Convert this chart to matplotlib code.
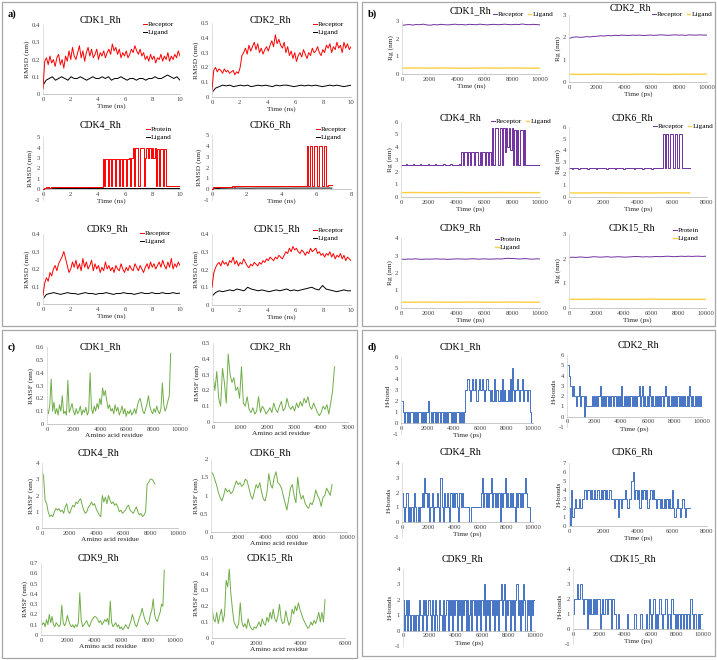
import numpy as np
import matplotlib
matplotlib.use("Agg")
import matplotlib.pyplot as plt
from matplotlib.patches import Rectangle
from matplotlib.ticker import FuncFormatter

plt.rcParams['font.family'] = ['Liberation Serif', 'DejaVu Serif']

# ---------------- a) RMSD (nm) vs time (ns) ----------------
a1_rec = [0.03, 0.19, 0.21, 0.17, 0.22, 0.18, 0.2, 0.16, 0.21, 0.23, 0.17, 0.2, 0.15, 0.22, 0.19, 0.25,
          0.2, 0.27, 0.22, 0.2, 0.24, 0.28, 0.21, 0.25, 0.19, 0.24, 0.27, 0.22, 0.26, 0.21, 0.23, 0.26,
          0.2, 0.24, 0.22, 0.25, 0.21, 0.24, 0.26, 0.23, 0.29, 0.25, 0.27, 0.23, 0.26, 0.21, 0.24, 0.22,
          0.25, 0.21, 0.23, 0.26, 0.24, 0.28, 0.25, 0.23, 0.26, 0.22, 0.24, 0.2, 0.22, 0.19, 0.23, 0.2,
          0.22, 0.18, 0.21, 0.2, 0.23, 0.19, 0.22, 0.2, 0.24, 0.19, 0.22, 0.2, 0.23, 0.21, 0.25, 0.22]
a1_lig = [0.05, 0.08, 0.09, 0.1, 0.08, 0.09, 0.1, 0.09, 0.08, 0.1, 0.09, 0.09, 0.1, 0.09, 0.08, 0.09,
          0.1, 0.09, 0.09, 0.1, 0.09, 0.1, 0.08, 0.09, 0.09, 0.1, 0.09, 0.08, 0.09, 0.09, 0.08, 0.09,
          0.09, 0.08, 0.09, 0.09, 0.1, 0.09, 0.09, 0.1, 0.11, 0.1, 0.09, 0.1, 0.08]

a2_rec = [0.05, 0.18, 0.2, 0.17, 0.19, 0.18, 0.16, 0.19, 0.17, 0.18, 0.16, 0.17, 0.18, 0.15, 0.17, 0.16,
          0.2, 0.28, 0.3, 0.33, 0.29, 0.35, 0.31, 0.34, 0.37, 0.32, 0.36, 0.3, 0.33, 0.29, 0.32, 0.34,
          0.31, 0.35, 0.38, 0.34, 0.42, 0.36, 0.39, 0.35, 0.33, 0.37, 0.3, 0.34, 0.28, 0.31, 0.26, 0.3,
          0.24, 0.28, 0.3, 0.27, 0.32, 0.29, 0.26, 0.3, 0.28, 0.33, 0.3, 0.31, 0.34, 0.3, 0.28, 0.32,
          0.3, 0.35, 0.33, 0.36, 0.3, 0.34, 0.32, 0.37, 0.33, 0.35, 0.3, 0.37, 0.33, 0.36, 0.32, 0.34]
a2_lig = [0.03, 0.06, 0.07, 0.08, 0.075, 0.08, 0.07, 0.075, 0.08, 0.075, 0.08, 0.07, 0.075, 0.08,
          0.075, 0.08, 0.075, 0.07, 0.08, 0.075, 0.08, 0.08, 0.075, 0.07, 0.075, 0.08, 0.075, 0.08,
          0.075, 0.08, 0.075, 0.07, 0.075, 0.08, 0.075, 0.08, 0.075, 0.07, 0.075, 0.08]

a3_rec = [0.05, 0.15, 0.18, 0.2, 0.2, 0.19, 0.2, 0.21, 0.2, 0.2, 0.21, 0.22, 0.21, 0.22, 0.23, 0.22,
          0.22, 0.23, 0.24, 0.23, 0.22, 0.23, 0.24, 0.23, 0.22, 0.23, 0.24, 0.23, 0.24, 0.25, 0.24,
          0.23, 0.24, 0.25, 0.24, 0.25, 0.24, 0.25, 0.26, 0.25, 0.24, 0.25, 0.26, 0.25,
          2.9, 0.3, 2.9, 2.9, 0.3, 2.9, 0.3, 2.9, 2.9, 0.3, 2.9, 2.9, 0.3, 2.9, 0.3, 2.9, 2.9, 0.3,
          2.9, 3.0, 0.3, 3.0,
          4.0, 0.3, 4.0, 4.0, 0.3, 4.0, 4.0, 4.0,
          0.3, 3.0, 4.0, 3.0, 4.0, 3.0, 4.0, 3.0, 4.0,
          0.3, 3.9, 0.3, 3.9, 3.9, 0.3, 3.9, 0.3,
          0.3, 0.3, 0.3, 0.3, 0.3, 0.3, 0.3, 0.3, 0.3, 0.3]
a3_lig = [0.02, 0.08, 0.09, 0.1, 0.09, 0.1, 0.1, 0.09, 0.1, 0.1, 0.09, 0.1, 0.1, 0.09, 0.1, 0.1,
          0.09, 0.1, 0.1, 0.1]

a4_rec = [0.05, 0.18, 0.22, 0.22, 0.23, 0.22, 0.23, 0.23, 0.24, 0.23, 0.24, 0.24, 0.25, 0.24, 0.25,
          0.25, 0.26, 0.25, 0.26, 0.26, 0.27, 0.26, 0.27, 0.27, 0.28, 0.27, 0.28, 0.28, 0.28, 0.29,
          0.28, 0.29, 0.29, 0.29, 0.3, 0.29, 0.3, 0.3, 0.3, 0.29, 0.3, 0.3, 0.31, 0.3, 0.3, 0.31,
          0.3, 0.31, 0.31, 0.3, 0.31, 0.31, 0.32, 0.31, 0.32,
          4.0, 0.3, 4.0, 0.3, 4.0, 4.0, 0.3, 4.0, 4.0, 0.3, 4.0, 0.3,
          0.35, 0.35, 0.35]
a4_lig = [0.02, 0.08, 0.1, 0.1, 0.09, 0.1, 0.1, 0.1, 0.09, 0.1, 0.1, 0.1, 0.1, 0.1]

a5_rec = [0.05, 0.12, 0.15, 0.13, 0.18, 0.16, 0.2, 0.22, 0.19, 0.23, 0.25, 0.27, 0.3, 0.26, 0.22,
          0.18, 0.2, 0.24, 0.21, 0.25, 0.2, 0.23, 0.19, 0.26, 0.21, 0.24, 0.2, 0.22, 0.25, 0.19, 0.23,
          0.2, 0.22, 0.18, 0.21, 0.19, 0.24, 0.2, 0.22, 0.19, 0.21, 0.18, 0.22, 0.2, 0.19, 0.23, 0.2,
          0.18, 0.21, 0.19, 0.22, 0.2, 0.19, 0.23, 0.21, 0.19, 0.22, 0.2, 0.18, 0.21, 0.23, 0.2, 0.24,
          0.21, 0.23, 0.2, 0.22, 0.24, 0.21, 0.25, 0.22, 0.2, 0.24, 0.21, 0.26, 0.2, 0.23, 0.21, 0.24,
          0.22]
a5_lig = [0.03, 0.055, 0.06, 0.065, 0.06, 0.055, 0.06, 0.065, 0.06, 0.06, 0.055, 0.06, 0.065, 0.06,
          0.06, 0.055, 0.06, 0.06, 0.065, 0.06, 0.055, 0.06, 0.06, 0.065, 0.06, 0.06, 0.055, 0.06,
          0.065, 0.06, 0.06, 0.065, 0.06, 0.06, 0.065, 0.06, 0.06, 0.065, 0.06, 0.062]

a6_rec = [0.1, 0.18, 0.21, 0.23, 0.24, 0.22, 0.25, 0.23, 0.24, 0.22, 0.25, 0.24, 0.27, 0.23, 0.25,
          0.22, 0.24, 0.23, 0.26, 0.24, 0.22, 0.21, 0.23, 0.22, 0.24, 0.23, 0.22, 0.24, 0.23, 0.25,
          0.24, 0.26, 0.25, 0.27, 0.26, 0.25, 0.27, 0.26, 0.28, 0.27, 0.26, 0.28, 0.3, 0.29, 0.32,
          0.3, 0.33, 0.31, 0.32, 0.3, 0.29, 0.31, 0.3, 0.28, 0.3, 0.29, 0.32, 0.3, 0.31, 0.32, 0.29,
          0.3, 0.28, 0.29, 0.27, 0.29, 0.28, 0.3, 0.27, 0.29, 0.26, 0.28, 0.27, 0.29, 0.26, 0.28,
          0.25, 0.27, 0.26, 0.25]
a6_lig = [0.05, 0.07, 0.08, 0.075, 0.08, 0.085, 0.08, 0.09, 0.085, 0.08, 0.1, 0.09, 0.085, 0.08,
          0.085, 0.08, 0.075, 0.08, 0.085, 0.08, 0.085, 0.09, 0.08, 0.085, 0.08, 0.085, 0.09, 0.095,
          0.1, 0.09, 0.085, 0.11, 0.09, 0.085, 0.08, 0.075, 0.08, 0.085, 0.08, 0.08]

# ---------------- b) Rg (nm) vs time (ps) ----------------
b1_rec = [2.75, 2.78, 2.8, 2.77, 2.8, 2.79, 2.82, 2.78, 2.76, 2.8, 2.78, 2.81, 2.79, 2.78, 2.8,
          2.82, 2.79, 2.8, 2.78, 2.81, 2.8, 2.79, 2.82, 2.8, 2.78, 2.8, 2.81, 2.79, 2.8, 2.82, 2.8,
          2.79, 2.81, 2.8, 2.83, 2.8, 2.79, 2.81, 2.8, 2.78]
b1_lig = [0.33, 0.34, 0.33, 0.34, 0.33, 0.33, 0.34, 0.33, 0.34, 0.33, 0.33]

b2_rec = [1.95, 2.0, 2.02, 2.0, 2.01, 2.03, 2.02, 2.04, 2.05, 2.07, 2.06, 2.08, 2.07, 2.09, 2.08,
          2.1, 2.09, 2.08, 2.1, 2.09, 2.1, 2.08, 2.09, 2.1, 2.09, 2.1, 2.11, 2.1, 2.09, 2.1, 2.11,
          2.1, 2.1, 2.09, 2.11, 2.1, 2.1, 2.11, 2.1, 2.1]
b2_lig = [0.35, 0.34, 0.35, 0.35, 0.34, 0.35, 0.35, 0.34, 0.35, 0.35, 0.35]

b3_rec = [2.6, 2.6, 2.59, 2.6, 2.61, 2.6, 2.59, 2.6, 2.6, 2.61, 2.6, 2.59, 2.6, 2.6, 2.61, 2.6,
          2.59, 2.6, 2.6, 2.6, 2.61, 2.6, 2.59, 2.6, 2.6, 2.61, 2.6, 2.6, 2.59, 2.6, 2.6, 2.61, 2.6,
          2.6, 2.59, 2.6, 2.61, 2.6, 2.6, 2.59, 2.6, 2.6, 2.61, 2.6,
          3.6, 2.6, 3.6, 3.6, 2.6, 3.6, 2.6, 3.6, 3.6, 2.6, 3.6, 3.6, 2.6, 3.6, 2.6, 3.6, 3.6, 2.6,
          3.6, 2.6, 3.6, 2.6,
          5.5, 2.6, 5.5, 5.5, 2.6, 2.6, 5.5, 2.6,
          5.5, 3.6, 5.5, 4.0, 5.5, 3.8, 5.5,
          2.6, 5.4, 2.6, 5.4, 2.6, 5.4, 5.4, 2.6, 5.4, 2.6,
          2.6, 2.6, 2.6, 2.6, 2.6, 2.6, 2.6, 2.6, 2.6, 2.6]
b3_lig = [0.35, 0.36, 0.35, 0.35, 0.36, 0.35, 0.35, 0.36, 0.35, 0.35, 0.35]

b4_rec = [2.45, 2.45, 2.44, 2.45, 2.46, 2.45, 2.44, 2.45, 2.45, 2.46, 2.45, 2.44, 2.45, 2.45,
          2.46, 2.45, 2.44, 2.45, 2.45, 2.46, 2.45, 2.45, 2.44, 2.45, 2.46, 2.45, 2.45, 2.44, 2.45,
          2.45, 2.46, 2.45, 2.44, 2.45, 2.45, 2.46, 2.45, 2.45, 2.44, 2.45, 2.46, 2.45, 2.45, 2.44,
          2.45, 2.45, 2.46, 2.45, 2.44, 2.45, 2.45, 2.46, 2.45, 2.45, 2.45,
          5.4, 2.45, 5.4, 2.45, 5.4, 5.4, 2.45, 5.4, 2.45, 5.4, 5.4, 2.45,
          2.45, 2.45, 2.45, 2.45]
b4_lig = [0.35, 0.35, 0.36, 0.35, 0.35, 0.35, 0.36, 0.35]

b5_rec = [2.8, 2.78, 2.8, 2.79, 2.81, 2.79, 2.78, 2.8, 2.79, 2.8, 2.81, 2.79, 2.8, 2.78, 2.79,
          2.8, 2.81, 2.8, 2.79, 2.8, 2.82, 2.8, 2.79, 2.81, 2.8, 2.79, 2.8, 2.81, 2.8, 2.82, 2.84,
          2.83, 2.82, 2.8, 2.81, 2.82, 2.8, 2.79, 2.81, 2.8]
b5_lig = [0.33, 0.33, 0.34, 0.33, 0.33, 0.34, 0.33, 0.33, 0.34, 0.33, 0.33]

b6_rec = [2.05, 2.06, 2.05, 2.07, 2.06, 2.05, 2.06, 2.08, 2.07, 2.06, 2.07, 2.08, 2.06, 2.07,
          2.08, 2.07, 2.06, 2.07, 2.08, 2.09, 2.08, 2.07, 2.08, 2.07, 2.08, 2.09, 2.08, 2.09, 2.1,
          2.09, 2.08, 2.09, 2.1, 2.09, 2.1, 2.09, 2.1, 2.1, 2.09, 2.1]
b6_lig = [0.35, 0.35, 0.36, 0.35, 0.35, 0.35, 0.36, 0.35, 0.35, 0.35, 0.35]

# ---------------- c) RMSF (nm) vs residue ----------------
c1_last, c2_last, c3_last, c4_last, c5_last, c6_last = 9300, 4500, 8300, 8900, 9200, 5100
c1_rmsf = [0.12, 0.08, 0.15, 0.35, 0.1, 0.17, 0.08, 0.12, 0.07, 0.15, 0.1, 0.22, 0.08, 0.1, 0.07,
           0.34, 0.09, 0.12, 0.16, 0.1, 0.07, 0.12, 0.08, 0.1, 0.14, 0.07, 0.11, 0.09, 0.13, 0.07,
           0.1, 0.4, 0.12, 0.08, 0.14, 0.1, 0.16, 0.12, 0.2, 0.15, 0.28, 0.22, 0.26, 0.18, 0.12,
           0.15, 0.1, 0.12, 0.08, 0.15, 0.1, 0.13, 0.07, 0.1, 0.14, 0.08, 0.12, 0.06, 0.1, 0.08,
           0.11, 0.07, 0.09, 0.12, 0.08, 0.14, 0.18, 0.2, 0.15, 0.1, 0.08, 0.12, 0.16, 0.22, 0.14,
           0.1, 0.08, 0.12, 0.09, 0.14, 0.1, 0.08, 0.12, 0.32, 0.15, 0.1, 0.13, 0.18, 0.22, 0.55]
c2_rmsf = [0.3, 0.2, 0.32, 0.15, 0.1, 0.34, 0.25, 0.12, 0.43, 0.3, 0.25, 0.28, 0.2, 0.22, 0.15,
           0.35, 0.12, 0.1, 0.16, 0.08, 0.06, 0.09, 0.05, 0.07, 0.16, 0.06, 0.1, 0.08, 0.05, 0.07,
           0.09, 0.06, 0.12, 0.08, 0.06, 0.1, 0.13, 0.07, 0.09, 0.15, 0.1, 0.08, 0.1, 0.07, 0.12,
           0.09, 0.13, 0.1, 0.15, 0.12, 0.16, 0.1, 0.08, 0.12, 0.09, 0.06, 0.04, 0.06, 0.1, 0.08,
           0.11, 0.05, 0.12, 0.2, 0.35]
c3_rmsf = [3.5, 3.2, 1.7, 1.5, 1.0, 0.7, 0.8, 0.7, 1.0, 1.2, 1.1, 1.2, 1.0, 1.1, 0.9, 1.3, 1.5,
           1.0, 0.9, 1.2, 1.4, 1.3, 1.6, 1.5, 1.7, 1.8, 1.4, 1.1, 0.9, 1.0, 1.3, 1.4, 1.6, 1.4, 1.5,
           1.2, 1.0, 0.8, 0.7, 2.0, 1.6, 1.9, 1.5, 2.0, 1.7, 1.5, 1.6, 1.4, 1.5, 1.3, 1.0, 1.1, 0.9,
           1.0, 1.1, 1.3, 1.4, 1.1, 1.0, 0.9, 1.1, 1.3, 1.0, 0.8, 0.9, 0.7, 0.8, 1.0, 2.7, 2.8, 3.0,
           3.0, 2.9, 2.7]
c4_rmsf = [1.65, 1.6, 1.45, 1.3, 1.1, 0.95, 0.85, 1.0, 1.2, 1.1, 1.15, 1.05, 1.1, 1.25, 1.4, 1.3,
           1.35, 1.25, 1.3, 1.45, 1.4, 1.2, 1.0, 0.9, 1.1, 1.3, 1.2, 1.35, 1.1, 0.9, 0.85, 1.1, 1.6,
           1.3, 1.2, 1.5, 1.65, 1.35, 1.3, 1.2, 1.0, 0.8, 0.6, 0.9, 1.2, 1.3, 1.0, 0.8, 1.5, 1.1,
           0.9, 1.0, 0.8, 0.7, 0.65, 0.8, 0.75, 0.9, 1.15, 1.0, 0.9, 0.7, 0.95, 1.0, 1.2, 1.1, 1.0,
           1.3]
c5_rmsf = [0.14, 0.1, 0.12, 0.08, 0.15, 0.1, 0.2, 0.12, 0.18, 0.1, 0.08, 0.12, 0.1, 0.08, 0.1,
           0.29, 0.12, 0.09, 0.12, 0.19, 0.14, 0.1, 0.08, 0.1, 0.07, 0.1, 0.08, 0.12, 0.41, 0.15,
           0.08, 0.1, 0.12, 0.14, 0.1, 0.08, 0.12, 0.15, 0.17, 0.18, 0.17, 0.15, 0.12, 0.14, 0.1,
           0.12, 0.15, 0.13, 0.16, 0.1, 0.33, 0.12, 0.08, 0.1, 0.12, 0.08, 0.1, 0.06, 0.08, 0.05,
           0.07, 0.1, 0.08, 0.06, 0.1, 0.14, 0.2, 0.15, 0.1, 0.08, 0.12, 0.17, 0.2, 0.26, 0.2, 0.15,
           0.12, 0.1, 0.13, 0.2, 0.24, 0.35, 0.2, 0.15, 0.13, 0.18, 0.22, 0.3, 0.28, 0.63]
c6_rmsf = [0.19, 0.12, 0.1, 0.16, 0.09, 0.14, 0.18, 0.1, 0.15, 0.36, 0.32, 0.43, 0.28, 0.18, 0.1,
           0.08, 0.06, 0.09, 0.22, 0.1, 0.07, 0.09, 0.06, 0.12, 0.08, 0.06, 0.05, 0.07, 0.06, 0.08,
           0.1, 0.07, 0.12, 0.09, 0.08, 0.13, 0.1, 0.16, 0.12, 0.18, 0.12, 0.1, 0.14, 0.21, 0.12,
           0.09, 0.1, 0.17, 0.12, 0.08, 0.1, 0.18, 0.15, 0.2, 0.17, 0.22, 0.18, 0.15, 0.12, 0.1,
           0.08, 0.06, 0.07, 0.1, 0.08, 0.11, 0.09, 0.12, 0.16, 0.1, 0.16, 0.1, 0.24]

# ---------------- d) H-bonds vs time (ps) ----------------
d1_last, d2_last, d3_last, d4_last, d5_last, d6_last = 9900, 10000, 9800, 7000, 10000, 9900
d1_hb = [2, 2, 1, 0, 1, 1, 0, 1, 0, 1, 1, 0, 1, 0, 1, 0, 1, 1, 0, 1, 0, 1, 0, 1, 1, 2, 0, 1, 0, 1,
         1, 0, 1, 0, 1, 0, 1, 1, 0, 1, 0, 1, 0, 1, 1, 0, 1, 0, 1, 0, 1, 1, 0, 1, 0, 1, 0, 1,
         3, 3, 4, 3, 2, 3, 4, 3, 3, 4, 2, 3, 4, 3, 3, 4, 3, 2, 3, 4, 3, 3,
         2, 3, 2, 2, 4, 2, 3, 2, 2, 3, 2, 4, 2, 3, 2, 2, 3, 2, 4, 2,
         5, 3, 2, 3, 4, 3, 2, 3, 3, 4, 2, 3, 3, 2, 3, 3, 1, 0]
d2_hb = [5, 5, 4, 3, 3, 2, 3, 2, 1, 2, 2, 3, 1, 2, 2, 0, 2, 1, 1, 1, 1, 1, 2, 1, 2, 1, 2, 1, 2, 3,
         1, 2, 1, 2, 1, 2, 1, 2, 1, 2, 2, 1, 2, 1, 2, 1, 2, 1, 3, 1, 2, 1, 2, 1, 2, 1, 2, 1, 2, 1,
         2, 1, 2, 3, 1, 2, 3, 1, 2, 1, 2, 1, 3, 2, 1, 2, 1, 2, 1, 2, 1, 2, 1, 2, 1, 2, 3, 2, 1, 2,
         1, 2, 1, 2, 1, 2, 1, 2, 1, 2, 1, 2, 1, 2, 1, 2, 1, 3, 2, 1, 2, 1, 2, 1, 2, 1, 2, 1, 2]
d3_hb = [2, 1, 0, 1, 2, 0, 1, 0, 1, 0, 2, 1, 0, 1, 0, 1, 2, 1, 3, 2, 1, 2, 0, 1, 2, 0, 1, 1, 2, 1,
         0, 3, 1, 0, 2, 1, 2, 1, 0, 2, 1, 2, 1, 2, 1, 0, 2, 1, 2, 1, 1, 1, 1, 1, 0, 1, 1, 1, 1, 1,
         1, 1, 1, 2, 3, 1, 2, 1, 2, 1, 2, 3, 1, 2, 1, 2, 1, 2, 0, 2, 1, 2, 3, 1, 2, 1, 2, 1, 2, 1,
         0, 2, 1, 2, 1, 2, 1, 2, 3, 2, 1, 1, 0]
d4_hb = [2, 0, 4, 1, 2, 3, 2, 2, 3, 2, 3,
         3, 4, 3, 4, 4, 3, 4, 3, 4, 3, 4, 4, 3, 4, 3, 4, 3, 4, 3, 4, 4, 3,
         3, 2, 3, 3, 1, 3, 2, 3, 3, 4, 3, 2, 3, 3, 5, 6,
         3, 4, 3, 4, 2, 4, 3, 4, 3, 4, 2, 3, 4, 3, 4, 3,
         2, 3, 3, 2, 3, 2, 3, 2, 3, 2, 3, 2, 4,
         2, 1, 2, 3, 2, 1, 2, 3, 2, 1, 2, 2, 2]
d5_hb = [2, 0, 1, 2, 0, 2, 1, 0, 1, 0, 1, 0, 1, 1, 0, 2, 1, 0, 2, 1, 2, 0, 1, 2, 1, 0, 2, 1, 0, 2,
         1, 0, 2, 1, 1, 0, 2, 0, 1, 2, 0, 2, 1, 2, 0, 2, 1, 2, 0, 2, 1, 2, 0, 2, 1, 2, 0, 2, 0, 1,
         2, 0, 2, 1, 2, 0, 2, 1, 2, 0, 2, 1, 3, 0, 2, 1, 2, 0, 2, 1, 2, 0, 2, 1, 2, 0, 2, 3, 1, 2,
         3, 0, 2, 1, 2, 0, 2, 1, 2, 0, 2, 3, 1, 2, 0, 2, 1, 3, 2, 0, 2, 1, 2, 0, 2, 1, 2, 2]
d6_hb = [1, 2, 2, 2, 3, 2, 3, 3, 2, 1, 2, 2, 0, 2, 1, 2, 1, 2, 1,
         2, 1, 2, 2, 0, 1, 2, 1, 2, 2, 1, 2, 2, 0, 2, 2, 1, 1, 0, 1,
         0, 0, 0, 0, 0, 0, 0, 1, 0, 0, 0, 0, 0, 1, 0, 0, 0, 0, 1, 0, 0, 0,
         0, 1, 0, 2, 1, 0, 1, 2, 0, 1, 0, 1, 2, 1, 0, 1, 1, 2, 0, 1, 1, 0, 2, 1, 1, 0, 1, 0, 1, 0,
         1, 1, 0, 1, 0, 1, 1, 0, 2, 1, 0, 1, 1, 0, 1, 0, 1, 1]

W, H = 717, 660
RED, BLACK, PURPLE, GOLD, GREEN, BLUE = "#FF0000", "#000000", "#7030A0", "#FFC000", "#70AD47", "#4472C4"

fig = plt.figure(figsize=(W / 100, H / 100), dpi=100)


def add_ax(x0, y0, x1, y1):
    return fig.add_axes([x0 / W, 1 - y1 / H, (x1 - x0) / W, (y1 - y0) / H])


def ftext(x, y, s, **kw):
    fig.text(x / W, 1 - y / H, s, **kw)


def fmt(v, pos):
    return "%g" % round(v, 3)


def style(ax, xlim, xstep, ylim, ystep, title, tx, ty, xlabel, ylabel):
    ax.set_xlim(xlim)
    ax.set_ylim(ylim)
    ax.set_xticks(np.arange(xlim[0], xlim[1] + xstep / 2, xstep))
    ax.set_yticks(np.arange(ylim[0], ylim[1] + ystep / 2, ystep))
    ax.xaxis.set_major_formatter(FuncFormatter(fmt))
    ax.yaxis.set_major_formatter(FuncFormatter(fmt))
    for s in ["top", "right"]:
        ax.spines[s].set_visible(False)
    ax.spines["left"].set_color("#D9D9D9")
    ax.spines["left"].set_linewidth(0.6)
    ax.spines["bottom"].set_color("#BFBFBF")
    ax.spines["bottom"].set_linewidth(0.6)
    if ylim[0] < 0:
        # Excel style: horizontal axis crosses at zero
        ax.spines["bottom"].set_position(("data", 0))
    ax.tick_params(length=0, labelsize=4.8, pad=2, colors="#404040")
    ax.patch.set_alpha(0)
    ax.set_xlabel(xlabel, fontsize=5.3, labelpad=1, color="#262626")
    ax.set_ylabel(ylabel, fontsize=5.3, labelpad=1, color="#262626")
    ftext(tx, ty, title, fontsize=7, ha="center", va="center")


def legend(ax, x, y, ncol=1, handles=None, labels=None):
    if handles is None:
        handles, labels = ax.get_legend_handles_labels()
    ax.legend(handles, labels, loc="upper left", bbox_to_anchor=(x / W, 1 - y / H),
              bbox_transform=fig.transFigure, frameon=False, fontsize=5.2, handlelength=0.5,
              handletextpad=0.15, labelspacing=0.3, borderpad=0, borderaxespad=0, ncol=ncol,
              columnspacing=0.5)


def t(values, end):
    return np.linspace(0, end, len(values))


# panel boxes and labels
for (x0, y0, x1, y1), lab in zip([(2, 2, 357, 326), (362, 2, 715, 326), (2, 330, 357, 658), (362, 330, 715, 656)],
                                 ["a)", "b)", "c)", "d)"]):
    fig.add_artist(Rectangle((x0 / W, 1 - y1 / H), (x1 - x0) / W, (y1 - y0) / H, transform=fig.transFigure,
                             fill=False, ec="#A6A6A6", lw=0.9))
    ftext(x0 + 6, y0 + 12 if lab in ("a)", "b)") else y0 + 17, lab, fontsize=7.5, fontweight="bold",
          va="center")

# ---- a) RMSD
rmsd_plots = [
    ((43, 25, 180, 94), a1_rec, a1_lig, 10, (0, 0.4), 0.1, (0, 10), 2, "CDK1_Rh", (100, 20), "Receptor", (143, 21)),
    ((212, 23, 351, 97), a2_rec, a2_lig, 10, (0, 0.5), 0.1, (0, 10), 2, "CDK2_Rh", (270, 20), "Receptor", (313, 21)),
    ((43, 137, 180, 200), a3_rec, a3_lig, 10, (-1, 5), 1, (0, 10), 2, "CDK4_Rh", (100, 125), "Protein", (146, 126)),
    ((212, 135, 351, 200), a4_rec, a4_lig, 6.9, (-1, 5), 1, (0, 8), 2, "CDK6_Rh", (270, 125), "Receptor", (316, 126)),
    ((43, 234, 180, 304), a5_rec, a5_lig, 10, (0, 0.4), 0.1, (0, 10), 2, "CDK9_Rh", (107, 229), "Receptor", (140, 230)),
    ((212, 234, 351, 305), a6_rec, a6_lig, 10, (0, 0.4), 0.1, (0, 10), 2, "CDK15_Rh", (277, 229), "Receptor", (313, 227)),
]
for box, rec, lig, end, ylim, ystep, xlim, xstep, title, tpos, rlab, lpos in rmsd_plots:
    ax = add_ax(*box)
    ds = "steps-mid" if ylim[0] < 0 else "default"
    ax.plot(t(lig, end), lig, color=BLACK, lw=0.7, label="Ligand", zorder=2)
    ax.plot(t(rec, end), rec, color=RED, lw=0.7, label=rlab, zorder=3, drawstyle=ds)
    style(ax, xlim, xstep, ylim, ystep, title, tpos[0], tpos[1], "Time (ns)", "RMSD (nm)")
    h, l = ax.get_legend_handles_labels()
    legend(ax, lpos[0], lpos[1], handles=h[::-1], labels=l[::-1])

# ---- b) Rg
rg_plots = [
    ((402, 21, 540, 74), b1_rec, b1_lig, 10000, (0, 3), "CDK1_Rh", (470, 11), "Receptor", (493, 11), 2, "Time (ns)"),
    ((569, 15, 707, 82), b2_rec, b2_lig, 10000, (0, 3), "CDK2_Rh", (630, 8), "Receptor", (652, 11), 2, "Time (ps)"),
    ((401, 122, 540, 197), b3_rec, b3_lig, 10000, (0, 6), "CDK4_Rh", (460, 118), "Receptor", (491, 118), 2, "Time (ps)"),
    ((569, 127, 707, 197), b4_rec, b4_lig, 7000, (0, 6), "CDK6_Rh", (632, 118), "Receptor", (653, 123), 2, "Time (ps)"),
    ((401, 238, 540, 308), b5_rec, b5_lig, 10000, (0, 4), "CDK9_Rh", (460, 228), "Protein", (495, 236), 1, "Time (ps)"),
    ((569, 234, 706, 308), b6_rec, b6_lig, 10000, (0, 3), "CDK15_Rh", (632, 228), "Protein", (673, 227), 1, "Time (ps)"),
]
for i, (box, rec, lig, end, ylim, title, tpos, rlab, lpos, ncol, xl) in enumerate(rg_plots):
    ax = add_ax(*box)
    ds = "steps-mid" if i in (2, 3) else "default"
    ax.plot(t(rec, end), rec, color=PURPLE, lw=0.7, label=rlab, drawstyle=ds)
    ax.plot(t(lig, end), lig, color=GOLD, lw=1.0, alpha=0.75, label="Ligand")
    xlim = (0, 8000) if i == 3 else (0, 10000)
    style(ax, xlim, 2000, ylim, 1, title, tpos[0], tpos[1], xl, "Rg (nm)")
    legend(ax, lpos[0], lpos[1], ncol=ncol)

# ---- c) RMSF
rmsf_plots = [
    ((47, 347, 180, 424), c1_rmsf, c1_last, (0, 0.6), 0.1, (0, 10000), 2000, "CDK1_Rh", (100, 347)),
    ((213, 343, 348, 422), c2_rmsf, c2_last, (0, 0.5), 0.1, (0, 5000), 1000, "CDK2_Rh", (270, 347)),
    ((42, 463, 178, 528), c3_rmsf, c3_last, (0, 4), 1, (0, 10000), 2000, "CDK4_Rh", (98, 453)),
    ((211, 459, 347, 532), c4_rmsf, c4_last, (0, 2), 0.5, (0, 10000), 2000, "CDK6_Rh", (270, 453)),
    ((41, 563, 175, 635), c5_rmsf, c5_last, (0, 0.7), 0.1, (0, 10000), 2000, "CDK9_Rh", (98, 558)),
    ((212, 558, 345, 638), c6_rmsf, c6_last, (0, 0.5), 0.1, (0, 6000), 2000, "CDK15_Rh", (270, 558)),
]
for box, vals, last, ylim, ystep, xlim, xstep, title, tpos in rmsf_plots:
    ax = add_ax(*box)
    ax.plot(t(vals, last), vals, color=GREEN, lw=0.7)
    style(ax, xlim, xstep, ylim, ystep, title, tpos[0], tpos[1], "Amino acid residue", "RMSF (nm)")

# ---- d) H-bonds
hb_plots = [
    ((401, 357, 533, 434), d1_hb, d1_last, (-1, 6), (0, 10000), "CDK1_Rh", (460, 347), "H-bond"),
    ((567, 355, 702, 427), d2_hb, d2_last, (-1, 6), (0, 10000), "CDK2_Rh", (638, 345), "H-bonds"),
    ((402, 463, 533, 537), d3_hb, d3_last, (-1, 4), (0, 10000), "CDK4_Rh", (460, 452), "H-bonds"),
    ((569, 463, 707, 526), d4_hb, d4_last, (0, 7), (0, 8000), "CDK6_Rh", (632, 452), "H-bonds"),
    ((403, 569, 535, 646), d5_hb, d5_last, (-1, 4), (0, 10000), "CDK9_Rh", (462, 559), "H-bonds"),
    ((573, 569, 703, 644), d6_hb, d6_last, (-1, 4), (0, 10000), "CDK15_Rh", (633, 559), "H-bonds"),
]
for box, vals, last, ylim, xlim, title, tpos, yl in hb_plots:
    ax = add_ax(*box)
    ax.plot(t(vals, last), vals, color=BLUE, lw=0.7, drawstyle="steps-mid")
    style(ax, xlim, 2000, ylim, 1, title, tpos[0], tpos[1], "Time (ps)", yl)

fig.savefig("out.png", dpi=100, facecolor="white")
